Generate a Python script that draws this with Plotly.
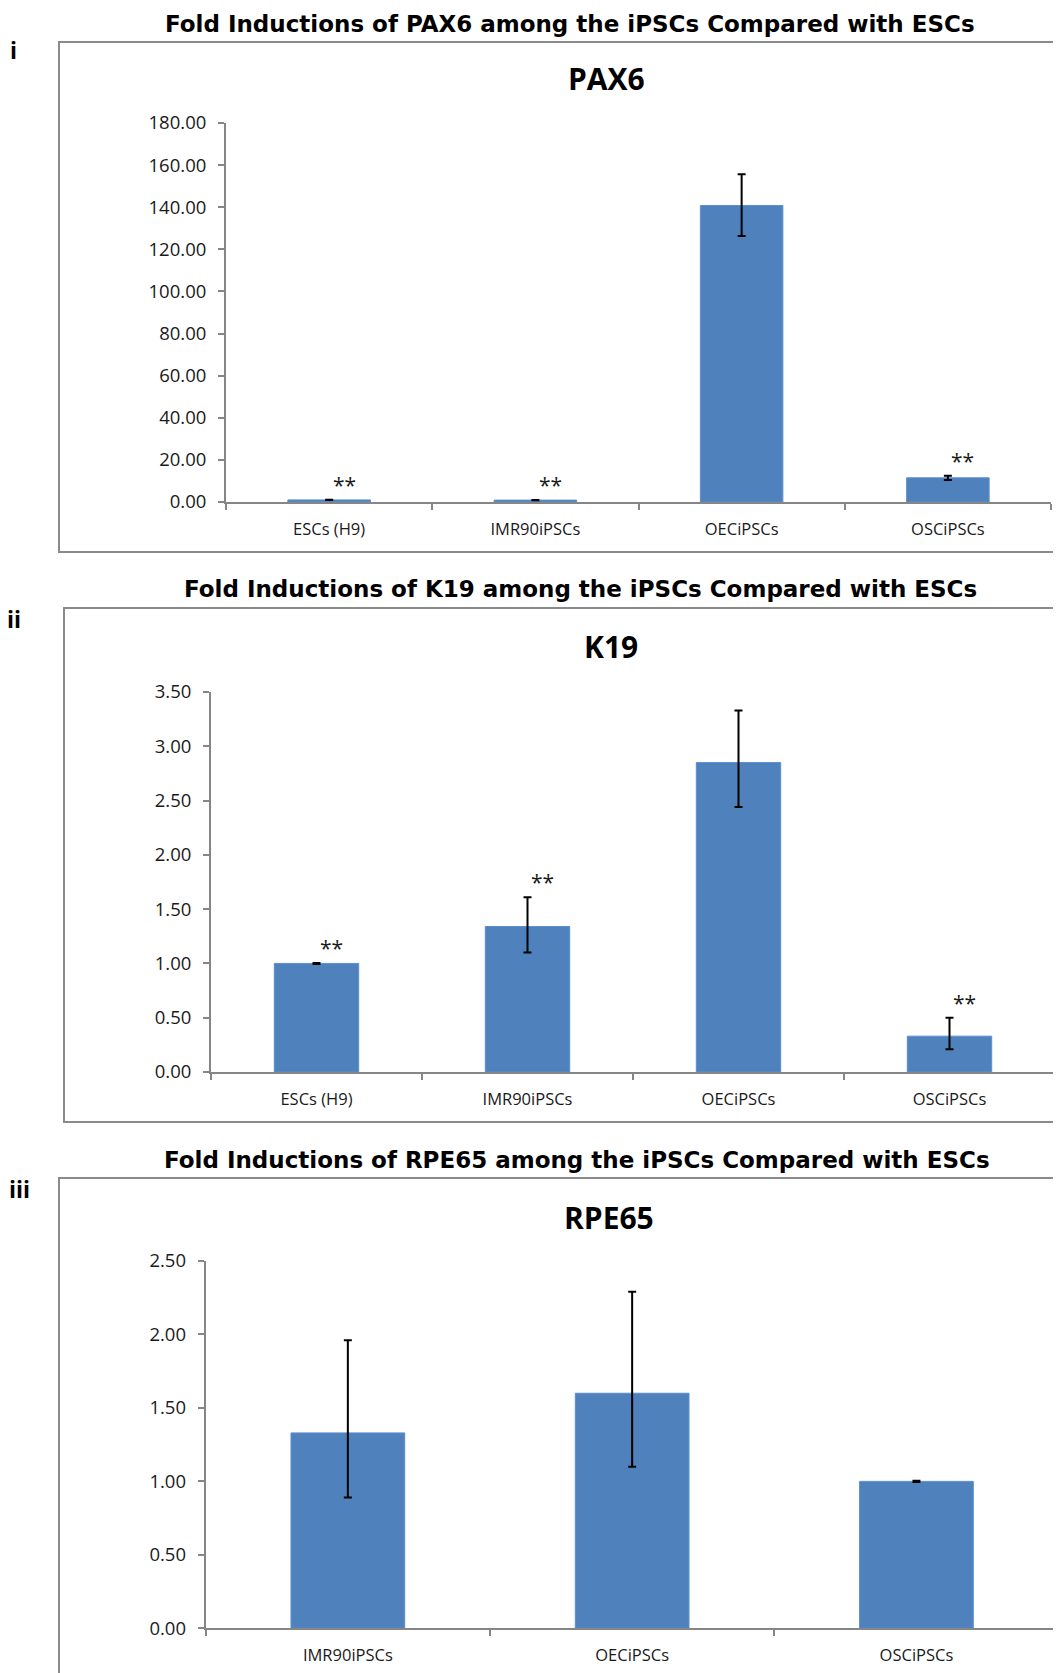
import plotly.graph_objects as go

W, H = 1061, 1673
PAGE_OFFSET = 8  # default body margin of the html page

# ---------------- data ----------------
pax6_categories = ["ESCs (H9)", "IMR90iPSCs", "OECiPSCs", "OSCiPSCs"]
pax6_values = [1.0, 0.9, 140.8, 11.5]
pax6_err_plus = [0.05, 0.05, 14.9, 1.0]
pax6_err_minus = [0.05, 0.05, 14.5, 1.1]
pax6_significant = [True, True, False, True]
pax6_ticks = [0, 20, 40, 60, 80, 100, 120, 140, 160, 180]

k19_categories = ["ESCs (H9)", "IMR90iPSCs", "OECiPSCs", "OSCiPSCs"]
k19_values = [1.00, 1.34, 2.85, 0.33]
k19_err_plus = [0.005, 0.27, 0.48, 0.17]
k19_err_minus = [0.005, 0.24, 0.41, 0.12]
k19_significant = [True, True, False, True]
k19_ticks = [0, 0.5, 1.0, 1.5, 2.0, 2.5, 3.0, 3.5]

rpe65_categories = ["IMR90iPSCs", "OECiPSCs", "OSCiPSCs"]
rpe65_values = [1.33, 1.60, 1.00]
rpe65_err_plus = [0.63, 0.69, 0.005]
rpe65_err_minus = [0.44, 0.50, 0.005]
rpe65_significant = [False, False, False]
rpe65_ticks = [0, 0.5, 1.0, 1.5, 2.0, 2.5]

panel_titles = [
    "Fold Inductions of PAX6 among the iPSCs Compared with ESCs",
    "Fold Inductions of K19 among the iPSCs Compared with ESCs",
    "Fold Inductions of RPE65 among the iPSCs Compared with ESCs",
]
panel_genes = ["PAX6", "K19", "RPE65"]
panel_labels = ["i", "ii", "iii"]

# ---------------- styling / layout ----------------
BAR = "#4F81BD"
AXIS = "#868686"
BOX = "#8a8a8a"
TXT = "#1a1a1a"
TICKFONT = dict(family="Open Sans", size=18.5, color=TXT)
XFONT = dict(family="Open Sans", size=16.5, color=TXT)
TITLEFONT = dict(family="DejaVu Sans", size=23, color="black")


def px_x(p):
    return (p - PAGE_OFFSET) / W


def px_y(p):
    return 1 - (p - PAGE_OFFSET) / H


panels = [
    dict(cats=pax6_categories, vals=pax6_values, ep=pax6_err_plus, em=pax6_err_minus,
         sig=pax6_significant, ticks=pax6_ticks,
         xdom=(226, 1051), ydom=(123, 502),
         box=(59, 42, 1090, 552), title_xy=(570, 31), gene_xy=(606, 78), label_xy=(13, 50)),
    dict(cats=k19_categories, vals=k19_values, ep=k19_err_plus, em=k19_err_minus,
         sig=k19_significant, ticks=k19_ticks,
         xdom=(211, 1055), ydom=(692, 1072),
         box=(64, 608, 1090, 1122), title_xy=(580, 596), gene_xy=(611, 647), label_xy=(14, 619)),
    dict(cats=rpe65_categories, vals=rpe65_values, ep=rpe65_err_plus, em=rpe65_err_minus,
         sig=rpe65_significant, ticks=rpe65_ticks,
         xdom=(205.7, 1058.6), ydom=(1261, 1628.3),
         box=(59, 1178, 1090, 1720), title_xy=(577, 1167), gene_xy=(609, 1217), label_xy=(19, 1189)),
]

fig = go.Figure()
layout = dict(
    width=W, height=H,
    margin=dict(l=0, r=0, t=0, b=0, pad=0, autoexpand=False),
    paper_bgcolor="white", plot_bgcolor="white",
    showlegend=False, bargap=0.6,
    annotations=[], shapes=[],
)

for i, p in enumerate(panels, start=1):
    xa = "x" if i == 1 else f"x{i}"
    ya = "y" if i == 1 else f"y{i}"
    fig.add_trace(go.Bar(
        x=p["cats"], y=p["vals"], xaxis=xa, yaxis=ya,
        marker=dict(color=BAR, line=dict(color="#5B8FCF", width=1)),
        error_y=dict(type="data", symmetric=False, array=p["ep"], arrayminus=p["em"],
                     color="black", thickness=2, width=4),
        width=0.4,
    ))
    layout[f"xaxis{'' if i == 1 else i}"] = dict(
        domain=[px_x(p["xdom"][0]), px_x(p["xdom"][1])],
        anchor=ya, type="category", automargin=False,
        showline=True, linecolor=AXIS, linewidth=2,
        ticks="outside", tickson="boundaries", ticklen=6, tickcolor=AXIS, tickwidth=2,
        tickfont=XFONT, showgrid=False, zeroline=False, fixedrange=True,
        ticklabelstandoff=11,
    )
    top = p["ticks"][-1]
    layout[f"yaxis{'' if i == 1 else i}"] = dict(
        domain=[px_y(p["ydom"][1]), px_y(p["ydom"][0])],
        anchor=xa, range=[0, top], automargin=False,
        tickvals=p["ticks"], tickformat=".2f",
        showline=True, linecolor=AXIS, linewidth=2,
        ticks="outside", ticklen=6, tickcolor=AXIS, tickwidth=2,
        tickfont=TICKFONT, showgrid=False, zeroline=False, fixedrange=True,
        ticklabelstandoff=8,
    )
    # frame
    bx0, by0, bx1, by1 = p["box"]
    layout["shapes"].append(dict(
        type="rect", xref="paper", yref="paper",
        x0=px_x(bx0), x1=px_x(bx1), y0=px_y(by1), y1=px_y(by0),
        line=dict(color=BOX, width=2), fillcolor="rgba(0,0,0,0)",
    ))
    # titles (anchored at their baseline region, bottom of the text box)
    tx, ty = p["title_xy"]
    layout["annotations"].append(dict(
        text=f"<b>{panel_titles[i-1]}</b>", xref="paper", yref="paper",
        x=px_x(tx), y=px_y(ty), xanchor="center", yanchor="bottom", showarrow=False,
        yshift=-7, borderpad=0, font=TITLEFONT,
    ))
    gx, gy = p["gene_xy"]
    layout["annotations"].append(dict(
        text=f"<b>{panel_genes[i-1]}</b>", xref="paper", yref="paper",
        x=px_x(gx), y=px_y(gy), xanchor="center", yanchor="middle", showarrow=False,
        font=dict(family="Open Sans", size=30, color="black"),
    ))
    lx, ly = p["label_xy"]
    layout["annotations"].append(dict(
        text=f"<b>{panel_labels[i-1]}</b>", xref="paper", yref="paper",
        x=px_x(lx), y=px_y(ly), xanchor="center", yanchor="middle", showarrow=False,
        font=dict(family="Open Sans", size=23, color="black"),
    ))
    # significance stars
    for c, v, e, s in zip(p["cats"], p["vals"], p["ep"], p["sig"]):
        if s:
            layout["annotations"].append(dict(
                text="**", xref=xa, yref=ya, x=c, y=v + e,
                xanchor="center", yanchor="bottom", xshift=15, yshift=-1,
                showarrow=False, font=dict(family="Open Sans", size=21, color=TXT),
            ))

fig.update_layout(**layout)
fig.write_html("out.html")
